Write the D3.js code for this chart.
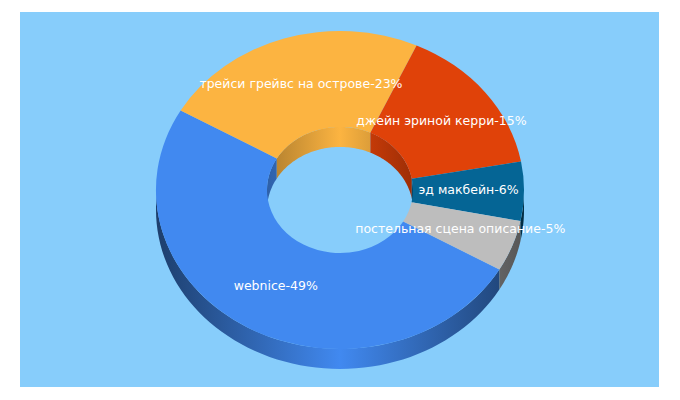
<!DOCTYPE html>
<html>
<head>
<meta charset="utf-8">
<script src="https://cdn.jsdelivr.net/npm/d3@7"></script>
<style>
  html, body { margin: 0; padding: 0; background: #fff; }
  svg { display: block; }
</style>
</head>
<body>
<svg id="chart"></svg>
<script>
let names = ["webnice", "трейси грейвс на острове", "джейн эриной керри", "эд макбейн", "постельная сцена описание"]
let percents = [49, 23, 15, 6, 5]
// slice sizes as measured on the picture, the labels are rounded down
let shares = [50.0, 23.5, 15.3, 6.0, 5.2]
let colors = ["#4189f0", "#fcb441", "#e04209", "#056595", "#bdbdbd"]

let w = 680
let h = 400
let cx = 340
let cy = 190
let rOuter = 184
let rInner = 73
let tilt = 0.864
let depth = 20

let svg = d3.select("#chart").attr("width", w).attr("height", h)
let defs = svg.append("defs")

svg.append("rect")
   .attr("x", 20).attr("y", 12)
   .attr("width", 639).attr("height", 375)
   .attr("fill", "#87cdfb")

let start = 120 * Math.PI / 180
let pie = d3.pie().sort(null).startAngle(start).endAngle(start + 2 * Math.PI)
let slices = pie(shares)
let arc = d3.arc().innerRadius(rInner).outerRadius(rOuter)

// shade runs dark at the rim's sides, full colour in the middle
let makeGradient = (id, color, r, edge) => {
  let g = defs.append("linearGradient")
              .attr("id", id)
              .attr("gradientUnits", "userSpaceOnUse")
              .attr("x1", cx - r).attr("x2", cx + r)
              .attr("y1", 0).attr("y2", 0)
  let dark = d3.interpolateRgb("#000", color)(edge)
  g.append("stop").attr("offset", 0).attr("stop-color", dark)
  g.append("stop").attr("offset", 0.5).attr("stop-color", color)
  g.append("stop").attr("offset", 1).attr("stop-color", dark)
}

colors.forEach((c, i) => {
  makeGradient("outer" + i, c, rOuter, 0.45)
  makeGradient("inner" + i, c, rInner, 0.7)
})

// ribbon between two angles on a ring, dropped by the depth
let wall = (r, a0, a1) => {
  let pts = d3.range(0, 61).map((k) => a0 + (a1 - a0) * k / 60)
  let upper = pts.map((a) => [cx + r * Math.sin(a), cy - r * tilt * Math.cos(a)])
  let lower = pts.slice().reverse().map((a) => [cx + r * Math.sin(a), cy - r * tilt * Math.cos(a) + depth])
  return d3.line()(upper.concat(lower)) + "Z"
}

// clip a slice's angles to a visible window, trying whole turns
let overlap = (d, lo, hi) => {
  let res = []
  for (let k = -1; k <= 1; k++) {
    let a0 = Math.max(d.startAngle, lo + k * 2 * Math.PI)
    let a1 = Math.min(d.endAngle, hi + k * 2 * Math.PI)
    if (a1 > a0) res.push([a0, a1])
  }
  return res
}

// inner wall shows on the back half, outer wall on the front half
slices.forEach((d, i) => {
  overlap(d, -Math.PI / 2, Math.PI / 2).forEach((p) => {
    svg.append("path").attr("d", wall(rInner, p[0], p[1])).attr("fill", "url(#inner" + i + ")")
  })
  overlap(d, Math.PI / 2, 3 * Math.PI / 2).forEach((p) => {
    svg.append("path").attr("d", wall(rOuter, p[0], p[1])).attr("fill", "url(#outer" + i + ")")
  })
})

let face = svg.append("g")
              .attr("transform", "translate(" + cx + "," + cy + ") scale(1," + tilt + ")")

face.selectAll("path")
    .data(slices)
    .enter()
    .append("path")
    .attr("d", arc)
    .attr("fill", (d, i) => colors[i])

svg.selectAll("text")
   .data(slices)
   .enter()
   .append("text")
   .attr("x", (d) => cx + arc.centroid(d)[0])
   .attr("y", (d) => cy + arc.centroid(d)[1] * tilt)
   .attr("dy", "0.28em")
   .attr("text-anchor", "middle")
   .attr("font-family", "'DejaVu Sans', Verdana, sans-serif")
   .attr("font-size", 12.5)
   .attr("fill", "#fff")
   .text((d, i) => names[i] + "-" + percents[i] + "%")
</script>
</body>
</html>
